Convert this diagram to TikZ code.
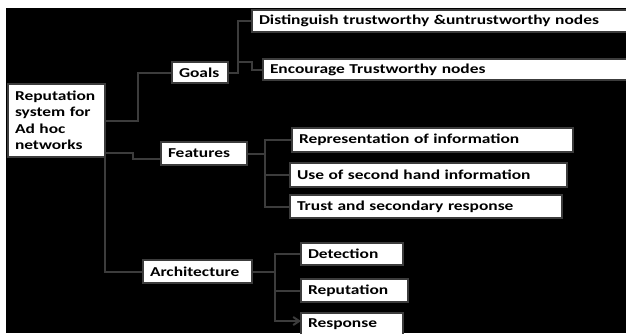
\documentclass[tikz,border=0pt]{standalone}
\usepackage{fontspec}
\setmainfont[FakeStretch=1.28]{Carlito}
\usetikzlibrary{positioning, arrows.meta}
\definecolor{linegray}{HTML}{3C3C3C}

\begin{document}
\begin{tikzpicture}[
  x=1pt, y=-1pt,
  every node/.style={font=\fontsize{13.6}{16.5}\selectfont\bfseries},
  box/.style  = {draw=linegray, fill=white, line width=1.5pt, anchor=north west,
                 inner xsep=7pt, inner ysep=0pt, outer sep=0pt, align=left},
  link/.style = {draw=linegray, line width=2pt},
  tip/.style  = {link, -{Straight Barb[length=6pt, width=8pt]}},
]
  % page and black panel
  \fill[white] (0,0) rectangle (626,333);
  \fill[black] (6,8) rectangle (626,333);
  \clip (0,0) rectangle (626,333);

  \node[box, text width=83pt, minimum height=73pt] (root) at (8,84)
        {Reputation\\system for\\Ad hoc\\networks};

  % first level
  \node[box, text width=42pt, minimum height=21pt]  (goals) at (172,62)  {Goals};
  \node[box, text width=72pt, minimum height=23pt]  (feat)  at (161,142) {Features};
  \node[box, text width=95pt, minimum height=23pt]  (arch)  at (143,260) {Architecture};

  % goals
  \node[box, text width=361pt, minimum height=22pt] (dist) at (252,10) {Distinguish trustworthy \&untrustworthy nodes};
  \node[box, text width=350pt, minimum height=21pt] (enc)  at (263,59) {Encourage Trustworthy nodes};

  % features
  \node[box, text width=267pt, minimum height=24pt] (repr)  at (292,128) {Representation of information};
  \node[box, text width=263pt, minimum height=24pt] (second) at (290,163) {Use of second hand information};
  \node[box, text width=258pt, minimum height=23pt] (trust) at (290,195) {Trust and secondary response};

  % architecture
  \node[box, text width=88pt, minimum height=22pt] (detect) at (301,243) {Detection};
  \node[box, text width=93pt, minimum height=23pt] (reput)  at (301,279) {Reputation};
  \node[box, text width=88pt, minimum height=22pt] (resp)   at (301,313) {Response};

  % root -> first level
  \draw[link] (root.east) -- ++(33,0) |- (goals.west);
  \draw[link] ([yshift=4pt]root.south east) -- ++(28,0) |- ([yshift=-5pt]feat.west);
  \draw[link] (root.south east) |- (arch.west);

  % goals -> leaves
  \coordinate (encstep) at (252,62);
  \draw[link] (goals.east) -- ++(10,0) coordinate (gj) |- (dist.west);
  \draw[link] (gj) |- (encstep) |- (enc.west);

  % features -> leaves
  \draw[link] (feat.east) -- ++(18,0) coordinate (fj) |- (repr.west);
  \draw[link] (fj) |- (second.west);
  \draw[link] (fj) |- (trust.west);

  % architecture -> leaves
  \draw[link] (arch.east) -- ++(23,0) coordinate (aj) |- (detect.west);
  \draw[link] (aj) |- (reput.west);
  \draw[tip]  (aj) |- ([yshift=3pt]resp.west);
\end{tikzpicture}
\end{document}
